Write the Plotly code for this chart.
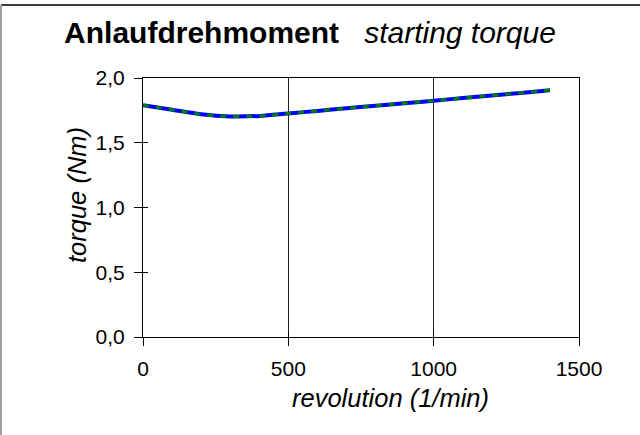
import plotly.graph_objects as go

revolution = [0, 100, 200, 300, 400, 500, 600, 700, 800, 900, 1000, 1100, 1200, 1300, 1400]
torque = [1.79, 1.755, 1.72, 1.703, 1.707, 1.726, 1.746, 1.766, 1.786, 1.805, 1.825, 1.845, 1.865, 1.885, 1.905]

x_ticks = [0, 500, 1000, 1500]
y_ticks = [0.0, 0.5, 1.0, 1.5, 2.0]

FONT = "Liberation Sans, Arial, sans-serif"
W, H = 640, 435
L, R, T, B = 143, 61, 78, 98
pw, ph = W - L - R, H - T - B

fig = go.Figure()
fig.add_trace(go.Scatter(x=revolution, y=torque, mode="lines",
                         line=dict(color="#0000ff", width=4, shape="spline"),
                         showlegend=False, hoverinfo="skip"))
fig.add_trace(go.Scatter(x=revolution, y=torque, mode="lines",
                         line=dict(color="#008000", width=3, dash="6px,7px", shape="spline"),
                         showlegend=False))

axis_common = dict(showline=True, linecolor="black", linewidth=1, mirror=True,
                   ticks="outside", ticklen=8, tickcolor="black", tickwidth=1,
                   zeroline=False, ticklabelstandoff=5,
                   tickfont=dict(family=FONT, size=21, color="black"))

fig.update_layout(
    width=W, height=H,
    margin=dict(l=L, r=R, t=T, b=B, pad=0),
    paper_bgcolor="white", plot_bgcolor="white",
    separators=",.",
    font=dict(family=FONT, color="black"),
    title=dict(text="<b>Anlaufdrehmoment</b>&nbsp;&nbsp;&nbsp;<i>starting torque</i>",
               font=dict(family=FONT, size=30, color="black"),
               x=310 / W, xanchor="center", xref="container",
               y=1 - 32 / H, yanchor="middle", yref="container"),
    xaxis=dict(range=[0, 1500], tickvals=x_ticks, showgrid=True, gridcolor="#222222",
               gridwidth=1, **axis_common),
    yaxis=dict(range=[0, 2.0], tickvals=y_ticks, tickformat=".1f", showgrid=False,
               **axis_common),
    xaxis2=dict(range=[0, 1500], tickvals=x_ticks, overlaying="x", side="bottom",
                ticks="inside", ticklen=5, tickcolor="black", showticklabels=False,
                showgrid=False, zeroline=False, showline=False, anchor="y"),
    yaxis2=dict(range=[0, 2.0], tickvals=y_ticks, overlaying="y", side="left",
                ticks="inside", ticklen=5, tickcolor="black", showticklabels=False,
                showgrid=False, zeroline=False, showline=False, anchor="x"),
)
# invisible trace to activate the secondary (inside tick) axes
fig.add_trace(go.Scatter(x=[None], y=[None], xaxis="x2", yaxis="y2", showlegend=False))

fig.add_annotation(text="<i>revolution (1/min)</i>", xref="paper", yref="paper",
                   x=(390 - L) / pw, y=(H - B - 398) / ph, xanchor="center", yanchor="middle",
                   showarrow=False, font=dict(family=FONT, size=25.5, color="black"))
fig.add_annotation(text="<i>torque (Nm)</i>", xref="paper", yref="paper",
                   x=(77 - L) / pw, y=(H - B - 195) / ph, xanchor="center", yanchor="middle",
                   textangle=-90, showarrow=False, font=dict(family=FONT, size=25.5, color="black"))

# outer chart frame (top black, left gray)
fig.add_shape(type="line", xref="paper", yref="paper",
              x0=(1 - L) / pw, x1=(W + 5 - L) / pw, y0=(H - B - 5) / ph, y1=(H - B - 5) / ph,
              line=dict(color="black", width=1.5))
fig.add_shape(type="line", xref="paper", yref="paper",
              x0=(1 - L) / pw, x1=(1 - L) / pw, y0=(H - B - 5) / ph, y1=(H - B - H - 5) / ph,
              line=dict(color="#a0a0a0", width=2))

fig.write_html("out.html", config={"displayModeBar": False},
               post_script="document.body.style.margin='0';document.body.style.overflow='hidden';")
